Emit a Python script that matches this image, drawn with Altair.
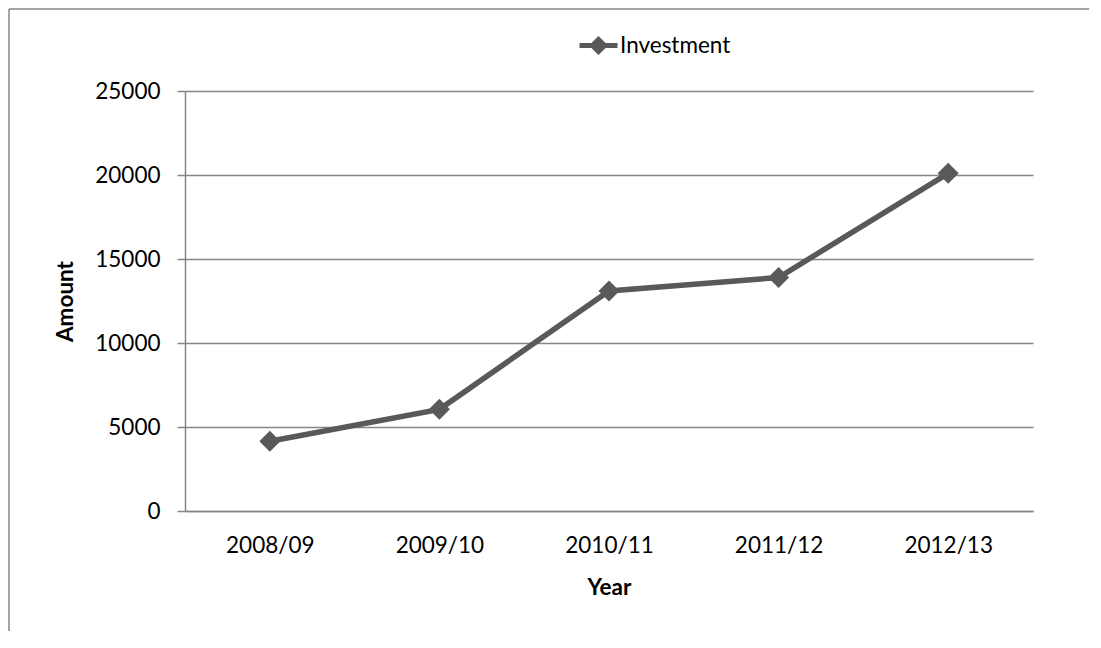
import altair as alt
import pandas as pd

years = ["2008/09", "2009/10", "2010/11", "2011/12", "2012/13"]
investment = [4150, 6050, 13100, 13900, 20100]
series = ["Investment"] * len(years)
y_ticks = [0, 5000, 10000, 15000, 20000, 25000]

df = pd.DataFrame({"year": years, "amount": investment, "series": series})

LINE = "#595959"
GRID = "#868686"
FONT = "Lato"

x_enc = alt.X("year:N", sort=years, title="Year",
              axis=alt.Axis(labelAngle=0, ticks=False, domain=True, domainColor=GRID,
                            domainWidth=1.5, labelPadding=23, titlePadding=20,
                            labelFontSize=22.5, titleFontSize=22.5, labelColor="black",
                            titleColor="black", titleFontWeight="bold", labelFont=FONT,
                            titleFont=FONT))
y_enc = alt.Y("amount:Q", title="Amount",
              scale=alt.Scale(domain=[0, 25000], nice=False),
              axis=alt.Axis(values=y_ticks, format="d", grid=True, gridColor=GRID,
                            gridWidth=1.5, domainColor=GRID, domainWidth=1.5,
                            tickColor=GRID, tickWidth=1.5, tickSize=8, labelPadding=17,
                            titlePadding=17, labelFontSize=22.5, titleFontSize=22.5,
                            labelColor="black", titleColor="black",
                            titleFontWeight="bold", labelFont=FONT, titleFont=FONT))

legend_path = "M-1,0L1,0M0,-0.32L0.32,0L0,0.32L-0.32,0Z"

line = alt.Chart(df).mark_line(strokeWidth=5.5).encode(
    x=x_enc, y=y_enc,
    color=alt.Color("series:N", scale=alt.Scale(range=[LINE]),
                    legend=alt.Legend(title=None, orient="none", legendX=392, legendY=-67,
                                      symbolType=legend_path, symbolSize=1444,
                                      symbolStrokeWidth=5, symbolStrokeColor=LINE,
                                      symbolFillColor=LINE, labelFontSize=22.5,
                                      labelFont=FONT, labelColor="black",
                                      labelOffset=0)),
)
points = alt.Chart(df).mark_point(shape="diamond", filled=True, size=440,
                                  color=LINE, opacity=1).encode(x=x_enc, y=y_enc)

frame = alt.Data(values=[{"k": 1}])
left_border = alt.Chart(frame).mark_rule(color=GRID, strokeWidth=1.5).encode(
    x=alt.value(-176), y=alt.value(-82), y2=alt.value(540))
top_border = alt.Chart(frame).mark_rule(color=GRID, strokeWidth=1.5).encode(
    x=alt.value(-176), x2=alt.value(904), y=alt.value(-82))

chart = alt.layer(left_border, top_border, line, points).properties(
    width=848, height=420, padding=0
).configure(font=FONT).configure_view(stroke=None)

chart.save("out.html", embed_options={"renderer": "svg", "actions": False})
